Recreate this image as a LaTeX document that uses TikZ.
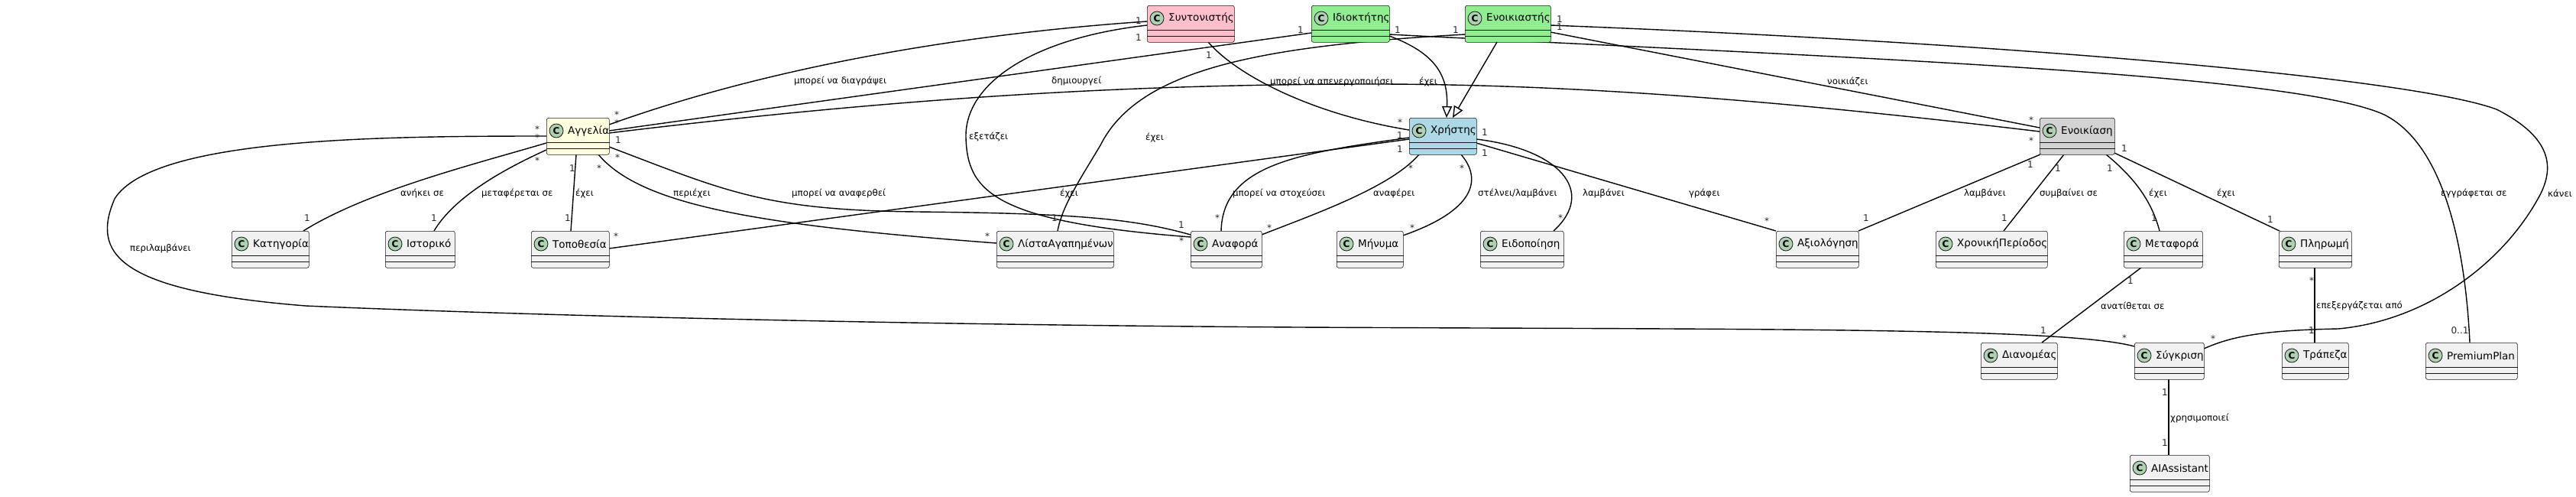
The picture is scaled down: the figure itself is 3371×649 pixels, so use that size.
\documentclass[tikz,border=0pt]{standalone}
\usepackage{fontspec}
\setmainfont{DejaVu Sans}
\usetikzlibrary{arrows.meta}
\pgfdeclarelayer{background}
\pgfsetlayers{background,main}
\definecolor{clsborder}{HTML}{181818}
\definecolor{spotc}{HTML}{ADD1B2}
\definecolor{cdef}{HTML}{F1F1F1}
\definecolor{cpink}{HTML}{FFC0CB}
\definecolor{cgreen}{HTML}{90EE90}
\definecolor{cblue}{HTML}{ADD8E6}
\definecolor{cyellow}{HTML}{FFFFE0}
\definecolor{cgray}{HTML}{D3D3D3}
\tikzset{
  cls/.style={draw=clsborder, line width=0.6pt, rounded corners=2.5pt, minimum height=48pt, inner sep=0pt, anchor=north west},
  spot/.style={circle, draw=clsborder, line width=0.8pt, fill=spotc, minimum size=18pt, inner sep=0pt, font=\fontsize{12}{12}\selectfont\bfseries},
  cname/.style={anchor=west, inner sep=0pt, font=\fontsize{13.5}{13.5}\selectfont},
  lbl/.style={anchor=west, inner sep=0pt, font=\fontsize{11.8}{11.8}\selectfont},
  mult/.style={inner sep=0pt, font=\fontsize{12}{12}\selectfont, text=black!85},
  rel/.style={line width=1.4pt, draw=black},
  inh/.style={rel, -{Triangle[length=15pt, width=13pt, fill=white]}},
}
\newcommand\umlclass[6]{%
  \pgfmathsetmacro\clsw{#3-#2}%
  \node[cls, fill=#5, minimum width=\clsw pt] (#1) at (#2,#4) {};
  \draw[clsborder, line width=0.6pt] ([yshift=-32pt]#1.north west) -- ([yshift=-32pt]#1.north east);
  \draw[clsborder, line width=0.6pt] ([yshift=-40pt]#1.north west) -- ([yshift=-40pt]#1.north east);
  \node[spot] (#1-spot) at ([xshift=13pt,yshift=-17pt]#1.north west) {C};
  \node[cname] (#1-name) at ([xshift=28pt,yshift=-17pt]#1.north west) {#6};
}
\begin{document}
\begin{tikzpicture}[x=1pt, y=-1pt]
\useasboundingbox (0,0) rectangle (3371,649);

% ---------- classes ----------
\umlclass{Synt}{1501}{1615}{7}{cpink}{Συντονιστής}
\umlclass{Idiok}{1716}{1818}{7}{cgreen}{Ιδιοκτήτης}
\umlclass{Enoik}{1917}{2029}{7}{cgreen}{Ενοικιαστής}
\umlclass{Xristis}{1844}{1932}{154}{cblue}{Χρήστης}
\umlclass{Aggelia}{715}{797}{154}{cyellow}{Αγγελία}
\umlclass{Enoikiasi}{2669}{2767}{154}{cgray}{Ενοικίαση}
\umlclass{Kat}{303}{404}{302}{cdef}{Κατηγορία}
\umlclass{Ist}{504}{595}{302}{cdef}{Ιστορικό}
\umlclass{Topo}{695}{797}{302}{cdef}{Τοποθεσία}
\umlclass{Lista}{1304}{1457}{302}{cdef}{ΛίσταΑγαπημένων}
\umlclass{Anafora}{1558}{1651}{302}{cdef}{Αναφορά}
\umlclass{Minima}{1749}{1836}{302}{cdef}{Μήνυμα}
\umlclass{Eidop}{1937}{2046}{302}{cdef}{Ειδοποίηση}
\umlclass{Axiol}{2324}{2432}{302}{cdef}{Αξιολόγηση}
\umlclass{Xron}{2533}{2679}{302}{cdef}{ΧρονικήΠερίοδος}
\umlclass{Metaf}{2779}{2882}{302}{cdef}{Μεταφορά}
\umlclass{Plir}{2982}{3077}{302}{cdef}{Πληρωμή}
\umlclass{Dian}{2592}{2692}{448}{cdef}{Διανομέας}
\umlclass{Sygk}{2793}{2884}{448}{cdef}{Σύγκριση}
\umlclass{Trap}{2986}{3073}{448}{cdef}{Τράπεζα}
\umlclass{Prem}{3174}{3294}{448}{cdef}{PremiumPlan}
\umlclass{AI}{2787}{2891}{595}{cdef}{AIAssistant}

% ---------- edges (behind the classes) ----------
\begin{pgfonlayer}{background}
\fill[white] (0,0) rectangle (3371,649);
\begin{scope}[rel]
\draw ([shift={(82,9)}]Aggelia.north west) .. controls (1000,90) and (1250,45) .. ([shift={(0,21)}]Synt.north west);
\draw ([shift={(0,26)}]Synt.north west) .. controls (1350,50) and (1262,110) .. (1264,180) .. controls (1266,250) and (1300,290) .. ([shift={(0,8)}]Anafora.north west);
\draw ([shift={(0,36)}]Idiok.north west) -- ([shift={(82,17)}]Aggelia.north west);
\draw ([shift={(82,20)}]Aggelia.north west) .. controls (1200,125) and (1500,110) .. (1800,110) .. controls (2100,110) and (2400,140) .. ([shift={(0,18)}]Enoikiasi.north west);
\draw ([shift={(80,48)}]Synt.north west) .. controls (1620,100) and (1720,150) .. ([shift={(0,16)}]Xristis.north west);
\draw ([shift={(0,38)}]Enoik.north west) .. controls (1650,60) and (1490,90) .. (1440,190) .. controls (1410,240) and (1390,270) .. ([shift={(80,0)}]Lista.north west);
\draw ([shift={(112,35)}]Enoik.north west) -- ([shift={(0,13)}]Enoikiasi.north west);
\draw ([shift={(112,26)}]Enoik.north west) .. controls (2600,55) and (3150,100) .. (3267,143) .. controls (3340,180) and (3345,220) .. (3320,262) .. controls (3270,350) and (3170,420) .. (3060,430) .. controls (2960,432) and (2920,440) .. ([shift={(91,8)}]Sygk.north west);
\draw ([shift={(102,38)}]Idiok.north west) .. controls (2400,75) and (3000,95) .. (3120,150) .. controls (3190,185) and (3225,300) .. ([shift={(58,0)}]Prem.north west);
\draw ([shift={(0,28)}]Xristis.north west) -- ([shift={(102,23)}]Topo.north west);
\draw ([shift={(0,26)}]Xristis.north west) .. controls (1700,200) and (1600,215) .. ([shift={(40,0)}]Anafora.north west);
\draw ([shift={(13,48)}]Xristis.north west) .. controls (1820,245) and (1720,280) .. ([shift={(93,5)}]Anafora.north west);
\draw ([shift={(68,48)}]Xristis.north west) .. controls (1940,235) and (1930,275) .. ([shift={(87,6)}]Minima.north west);
\draw ([shift={(88,28)}]Xristis.north west) .. controls (2040,195) and (2090,250) .. ([shift={(96,0)}]Eidop.north west);
\draw ([shift={(88,33)}]Xristis.north west) -- ([shift={(0,0)}]Axiol.north west);
\draw ([shift={(0,33)}]Aggelia.north west) .. controls (620,215) and (480,250) .. ([shift={(94,0)}]Kat.north west);
\draw ([shift={(0,42)}]Aggelia.north west) .. controls (640,230) and (590,265) .. ([shift={(64,0)}]Ist.north west);
\draw ([shift={(39,48)}]Aggelia.north west) -- ([shift={(52,0)}]Topo.north west);
\draw ([shift={(68,48)}]Aggelia.north west) .. controls (840,270) and (1000,295) .. ([shift={(0,16)}]Lista.north west);
\draw ([shift={(82,38)}]Aggelia.north west) .. controls (950,250) and (1000,275) .. (1200,277) .. controls (1400,279) and (1480,285) .. ([shift={(0,5)}]Anafora.north west);
\draw ([shift={(0,24)}]Aggelia.north west) .. controls (500,178) and (200,180) .. (150,260) .. controls (120,330) and (150,380) .. (400,400) .. controls (700,413) and (1200,425) .. (1700,428) .. controls (2300,431) and (2700,428) .. ([shift={(0,5)}]Sygk.north west);
\draw ([shift={(1,48)}]Enoikiasi.north west) -- ([shift={(108,0)}]Axiol.north west);
\draw ([shift={(32,48)}]Enoikiasi.north west) -- ([shift={(89,0)}]Xron.north west);
\draw ([shift={(87,48)}]Enoikiasi.north west) .. controls (2790,230) and (2815,260) .. ([shift={(47,0)}]Metaf.north west);
\draw ([shift={(98,46)}]Enoikiasi.north west) -- ([shift={(1,0)}]Plir.north west);
\draw ([shift={(23,48)}]Metaf.north west) -- ([shift={(80,0)}]Dian.north west);
\draw ([shift={(47,48)}]Plir.north west) -- ([shift={(43,0)}]Trap.north west);
\draw ([shift={(45,48)}]Sygk.north west) -- ([shift={(51,0)}]AI.north west);
\end{scope}
\end{pgfonlayer}
\draw[inh] ([shift={(102,40)}]Idiok.north west) .. controls (1880,70) and (1895,100) .. ([shift={(49,0)}]Xristis.north west);
\draw[inh] ([shift={(42,48)}]Enoik.north west) -- ([shift={(57,0)}]Xristis.north west);

% ---------- edge labels ----------
\node[lbl] (l1) at (1039,106) {μπορεί να διαγράψει};
\node[lbl] (l2) at (1376,106) {δημιουργεί};
\node[lbl] (l3) at (1268,179) {εξετάζει};
\node[lbl] (l4) at (1662,107) {μπορεί να απενεργοποιήσει};
\node[lbl] (l5) at (1857,107) {έχει};
\node[lbl] (l6) at (1499,180) {έχει};
\node[lbl] (l7) at (2391,107) {νοικιάζει};
\node[lbl] (l8) at (3194,253) {εγγράφεται σε};
\node[lbl] (l9) at (3334,253) {κάνει};
\node[lbl] (l10) at (524,253) {ανήκει σε};
\node[lbl] (l11) at (630,253) {μεταφέρεται σε};
\node[lbl] (l12) at (753,253) {έχει};
\node[lbl] (l13) at (881,253) {περιέχει};
\node[lbl] (l14) at (1036,253) {μπορεί να αναφερθεί};
\node[lbl] (l15) at (1387,253) {έχει};
\node[lbl] (l16) at (1613,253) {μπορεί να στοχεύσει};
\node[lbl] (l17) at (1797,253) {αναφέρει};
\node[lbl] (l18) at (1934,253) {στέλνει/λαμβάνει};
\node[lbl] (l19) at (2071,253) {λαμβάνει};
\node[lbl] (l20) at (2210,253) {γράφει};
\node[lbl] (l21) at (170,325) {περιλαμβάνει};
\node[lbl] (l22) at (2570,253) {λαμβάνει};
\node[lbl] (l23) at (2669,253) {συμβαίνει σε};
\node[lbl] (l24) at (2812,253) {έχει};
\node[lbl] (l25) at (2901,253) {έχει};
\node[lbl] (l26) at (2749,400) {ανατίθεται σε};
\node[lbl] (l27) at (3031,400) {επεξεργάζεται από};
\node[lbl] (l28) at (2840,547) {χρησιμοποιεί};

% ---------- multiplicities ----------
\node[mult] (m1) at (1490,27) {1};
\node[mult] (m2) at (1490,49) {1};
\node[mult] (m3) at (1582,72) {1};
\node[mult] (m4) at (1702,39) {1};
\node[mult] (m5) at (1829,39) {1};
\node[mult] (m6) at (1905,39) {1};
\node[mult] (m7) at (2041,25) {1};
\node[mult] (m8) at (2041,35) {1};
\node[mult] (m9) at (1832,160) {*};
\node[mult] (m10) at (1832,177) {1};
\node[mult] (m11) at (1832,195) {1};
\node[mult] (m12) at (1943,173) {1};
\node[mult] (m13) at (1943,200) {1};
\node[mult] (m14) at (1846,220) {*};
\node[mult] (m15) at (1913,220) {*};
\node[mult] (m16) at (807,150) {*};
\node[mult] (m17) at (807,161) {*};
\node[mult] (m18) at (809,183) {1};
\node[mult] (m19) at (808,206) {*};
\node[mult] (m20) at (784,220) {*};
\node[mult] (m21) at (749,220) {1};
\node[mult] (m22) at (703,169) {*};
\node[mult] (m23) at (703,180) {*};
\node[mult] (m24) at (703,210) {*};
\node[mult] (m25) at (402,285) {1};
\node[mult] (m26) at (568,285) {1};
\node[mult] (m27) at (743,285) {1};
\node[mult] (m28) at (806,309) {*};
\node[mult] (m29) at (1292,309) {*};
\node[mult] (m30) at (1380,285) {1};
\node[mult] (m31) at (1546,294) {1};
\node[mult] (m32) at (1546,315) {*};
\node[mult] (m33) at (1593,285) {*};
\node[mult] (m34) at (1661,298) {*};
\node[mult] (m35) at (1848,298) {*};
\node[mult] (m36) at (2042,285) {*};
\node[mult] (m37) at (2312,289) {*};
\node[mult] (m38) at (2442,285) {1};
\node[mult] (m39) at (2658,157) {*};
\node[mult] (m40) at (2658,184) {*};
\node[mult] (m41) at (2657,215) {1};
\node[mult] (m42) at (2693,220) {1};
\node[mult] (m43) at (2761,220) {1};
\node[mult] (m44) at (2780,194) {1};
\node[mult] (m45) at (2623,285) {1};
\node[mult] (m46) at (2819,285) {1};
\node[mult] (m47) at (2788,367) {1};
\node[mult] (m48) at (2971,287) {1};
\node[mult] (m49) at (3025,367) {*};
\node[mult] (m50) at (2674,432) {1};
\node[mult] (m51) at (2780,442) {*};
\node[mult] (m52) at (2896,443) {*};
\node[mult] (m53) at (2833,513) {1};
\node[mult] (m54) at (3025,432) {1};
\node[mult] (m55) at (3219,432) {0..1};
\node[mult] (m56) at (2833,579) {1};
\end{tikzpicture}
\end{document}
